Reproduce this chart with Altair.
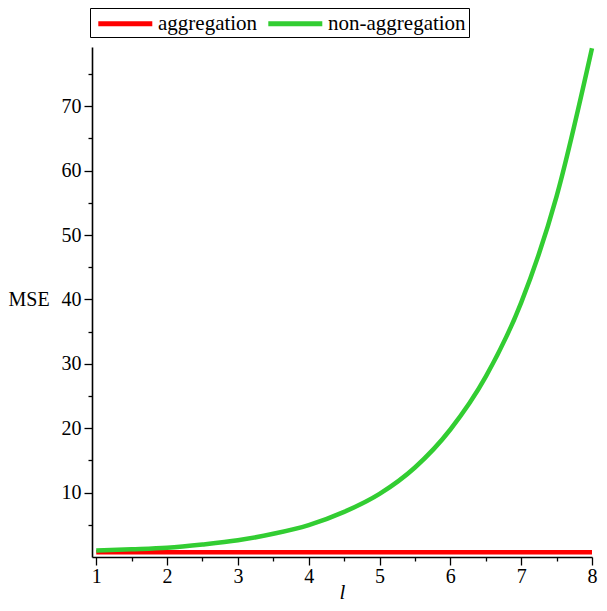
import altair as alt
import pandas as pd

# data
l_values = [1, 1.5, 2, 2.5, 3, 3.5, 4, 4.5, 5, 5.5, 6, 6.5, 7, 7.5, 8]
mse_non_aggregation = [1.0, 1.2, 1.45, 1.95, 2.6, 3.6, 4.95, 7.0, 9.8, 13.9, 19.8, 28.0, 39.5, 56.0, 79.0]
mse_aggregation = [0.75] * len(l_values)
series_names = ["aggregation", "non-aggregation"]
series_colors = ["#ff0000", "#32cd32"]
x_tick_values = [1, 1.5, 2, 2.5, 3, 3.5, 4, 4.5, 5, 5.5, 6, 6.5, 7, 7.5, 8]
y_tick_values = [5, 10, 15, 20, 25, 30, 35, 40, 45, 50, 55, 60, 65, 70, 75]

rows = []
for x, v in zip(l_values, mse_aggregation):
    rows.append({"l": x, "MSE": v, "series": series_names[0]})
for x, v in zip(l_values, mse_non_aggregation):
    rows.append({"l": x, "MSE": v, "series": series_names[1]})
df = pd.DataFrame(rows)

FONT = "Liberation Serif"
W, H = 500, 510
Y_TOP = 79.2
NBSP = "\u00a0"

chart = alt.Chart(df).mark_line(strokeWidth=4.5, interpolate="monotone", strokeCap="butt").encode(
    x=alt.X("l:Q",
            scale=alt.Scale(domain=[0.94, 8], nice=False, zero=False),
            axis=alt.Axis(
                title="l", titleFontStyle="italic", titleFont=FONT, titleFontSize=21,
                titleFontWeight="normal", titleColor="black", titlePadding=-5,
                values=x_tick_values,
                labelExpr="datum.value % 1 == 0 ? format(datum.value, 'd') : ''",
                labelFont=FONT, labelFontSize=20, labelColor="black", labelFlush=False,
                labelOverlap=False, labelPadding=1,
                tickSize={"condition": {"test": "datum.value % 1 == 0", "value": 8}, "value": 4},
                tickColor="black", tickWidth=1.3, domainColor="black", domainWidth=1.6,
                grid=False)),
    y=alt.Y("MSE:Q",
            scale=alt.Scale(domain=[0, Y_TOP], nice=False, zero=False),
            axis=alt.Axis(
                title="MSE", titleAngle=0, titleFont=FONT, titleFontSize=20,
                titleFontWeight="normal", titleColor="black", titleAlign="left",
                titleBaseline="middle", titleX=-84, titleY=H * (1 - 40 / Y_TOP),
                values=y_tick_values,
                labelExpr="datum.value % 10 == 0 ? format(datum.value, 'd') : ''",
                labelFont=FONT, labelFontSize=20, labelColor="black", labelOverlap=False,
                labelPadding=3,
                tickSize={"condition": {"test": "datum.value % 10 == 0", "value": 8}, "value": 4},
                tickColor="black", tickWidth=1.3, domainColor="black", domainWidth=1.6,
                grid=False)),
    color=alt.Color("series:N",
                    scale=alt.Scale(domain=series_names, range=series_colors),
                    legend=alt.Legend(
                        title=None, orient="none", legendX=-2, legendY=-39,
                        direction="horizontal", columns=2,
                        symbolType="M-0.72,0H4.68", symbolSize=400, symbolStrokeWidth=5,
                        labelFont=FONT, labelFontSize=21, labelColor="black",
                        labelExpr="datum.label == 'non-aggregation' ? datum.label + '" + NBSP * 3 + "' : datum.label",
                        labelOffset=40, columnPadding=0,
                        strokeColor="black", padding=3, fillColor="white")),
).properties(
    width=W, height=H,
    padding={"left": 84, "top": 39, "right": 7, "bottom": 46},
    autosize=alt.AutoSizeParams(type="none"),
).configure_view(stroke=None)

chart.save("out.html", embed_options={"renderer": "svg", "actions": False})
